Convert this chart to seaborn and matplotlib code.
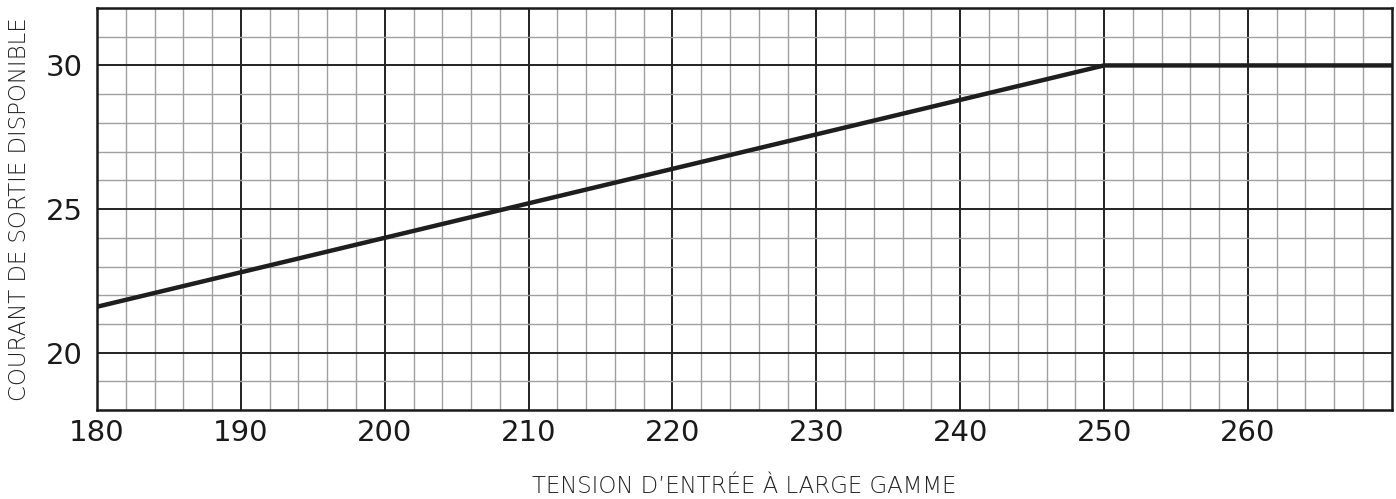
import matplotlib
matplotlib.use("Agg")
import matplotlib.pyplot as plt
from matplotlib.ticker import MultipleLocator
import seaborn as sns
import pandas as pd

# Data
tension = [180, 250, 270]
courant = [21.6, 30, 30]

x_ticks = [180, 190, 200, 210, 220, 230, 240, 250, 260]
y_ticks = [20, 25, 30]

df = pd.DataFrame({"tension": tension, "courant": courant})

sns.set_style("white")
plt.rcParams["font.family"] = ["DejaVu Sans"]

fig = plt.figure(figsize=(13.96, 4.99), dpi=100)
ax = fig.add_axes([0.0695, 0.178, 0.9275, 0.806])

sns.lineplot(data=df, x="tension", y="courant", color="#1e1e1e", linewidth=3.2, ax=ax, zorder=5)

ax.set_xlim(180, 270)
ax.set_ylim(18, 32)
ax.set_xticks(x_ticks)
ax.set_yticks(y_ticks)
ax.xaxis.set_minor_locator(MultipleLocator(2))
ax.yaxis.set_minor_locator(MultipleLocator(1))

ax.grid(which="minor", color="#a0a0a0", linewidth=1.0)
ax.grid(which="major", color="#222222", linewidth=1.4)
ax.set_axisbelow(True)

for s in ax.spines.values():
    s.set_visible(True)
    s.set_color("#1a1a1a")
    s.set_linewidth(1.8)

ax.tick_params(which="both", length=0)
ax.tick_params(axis="x", labelsize=21, pad=6, colors="#1a1a1a")
ax.tick_params(axis="y", labelsize=21, pad=10, colors="#1a1a1a")

ax.set_xlabel("TENSION D\u2019ENTRÉE À LARGE GAMME", fontsize=16.5, color="#222222",
              fontweight="light")
ax.set_ylabel("COURANT DE SORTIE DISPONIBLE", fontsize=16.5, color="#222222",
              fontweight="light")
ax.xaxis.set_label_coords(0.5, -0.16)
ax.yaxis.set_label_coords(-0.051, 0.5)

fig.savefig("out.png", dpi=100, facecolor="white")
